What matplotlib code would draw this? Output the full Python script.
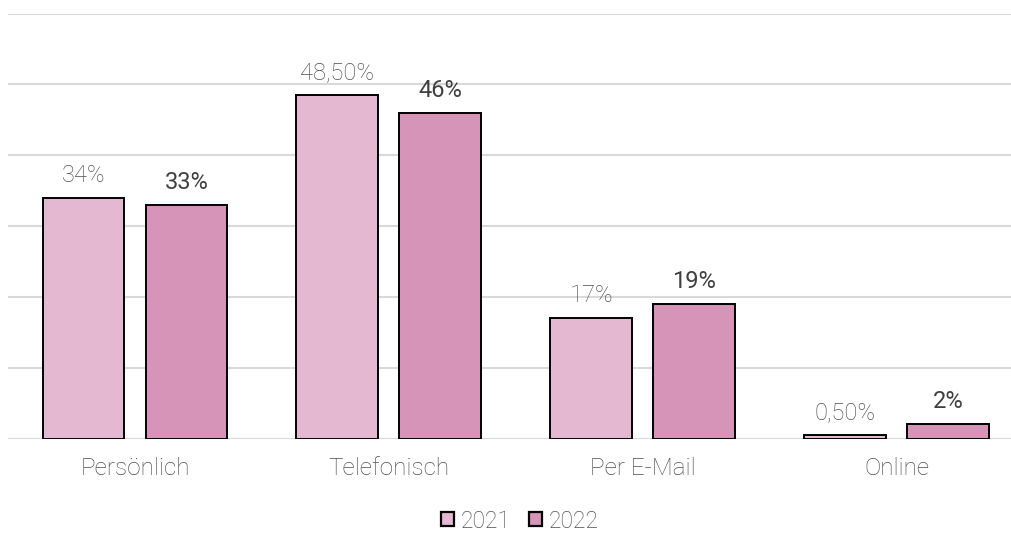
import matplotlib
matplotlib.use("Agg")
import matplotlib.pyplot as plt
import numpy as np
from matplotlib.patches import Patch

plt.rcParams['font.family'] = ['Roboto', 'DejaVu Sans']

categories = ["Persönlich", "Telefonisch", "Per E-Mail", "Online"]
years = ["2021", "2022"]
values_2021 = [34, 48.5, 17, 0.5]
values_2022 = [33, 46, 19, 2]
labels_2021 = ["34%", "48,50%", "17%", "0,50%"]
labels_2022 = ["33%", "46%", "19%", "2%"]

color_2021 = "#E4B8D0"
color_2022 = "#D695B8"
grid_color = "#D9D9D9"
text_light = "#4F4F4F"
text_dark = "#404040"

W, H = 1011, 533
fig = plt.figure(figsize=(W / 100, H / 100), dpi=100)
ax = fig.add_axes([8 / W, 1 - 438.5 / H, (1011 - 8) / W, (438.5 - 13.5) / H])

x = np.arange(len(categories))
width = 0.322
offset = 0.203

bars1 = ax.bar(x - offset, values_2021, width, color=color_2021,
               edgecolor="black", linewidth=1.4, zorder=3)
bars2 = ax.bar(x + offset, values_2022, width, color=color_2022,
               edgecolor="black", linewidth=1.4, zorder=3)

for b, lab in zip(bars1, labels_2021):
    ax.annotate(lab, (b.get_x() + b.get_width() / 2, b.get_height()),
                xytext=(0, 8), textcoords="offset points", ha="center",
                va="bottom", fontsize=17, color=text_light, fontweight="light")
for b, lab in zip(bars2, labels_2022):
    ax.annotate(lab, (b.get_x() + b.get_width() / 2, b.get_height()),
                xytext=(0, 8), textcoords="offset points", ha="center",
                va="bottom", fontsize=17, color=text_dark, fontweight="normal")

ax.set_xlim(-0.5, 3.5 - (1023.5 - 1011) / 254)
ax.set_ylim(0, 60)
ax.set_yticks(np.arange(0, 61, 10))
ax.yaxis.grid(True, color=grid_color, linewidth=1.5, zorder=0)
ax.tick_params(axis="y", left=False, labelleft=False)
ax.set_xticks(x)
ax.set_xticklabels(categories, fontsize=17.5, color=text_light, fontweight="light")
ax.tick_params(axis="x", length=0, pad=13)
for s in ax.spines.values():
    s.set_visible(False)

handles = [Patch(facecolor=color_2021, edgecolor="black", linewidth=1.6),
           Patch(facecolor=color_2022, edgecolor="black", linewidth=1.6)]
leg = fig.legend(handles, years, loc="center", bbox_to_anchor=(520 / W, 1 - 521 / H),
                 ncol=2, frameon=False, handlelength=0.57,
                 handleheight=0.57, handletextpad=0.3, columnspacing=0.8,
                 prop={"weight": "light", "size": 16.5})
for t in leg.get_texts():
    t.set_color(text_light)

fig.savefig("out.png", dpi=100)
